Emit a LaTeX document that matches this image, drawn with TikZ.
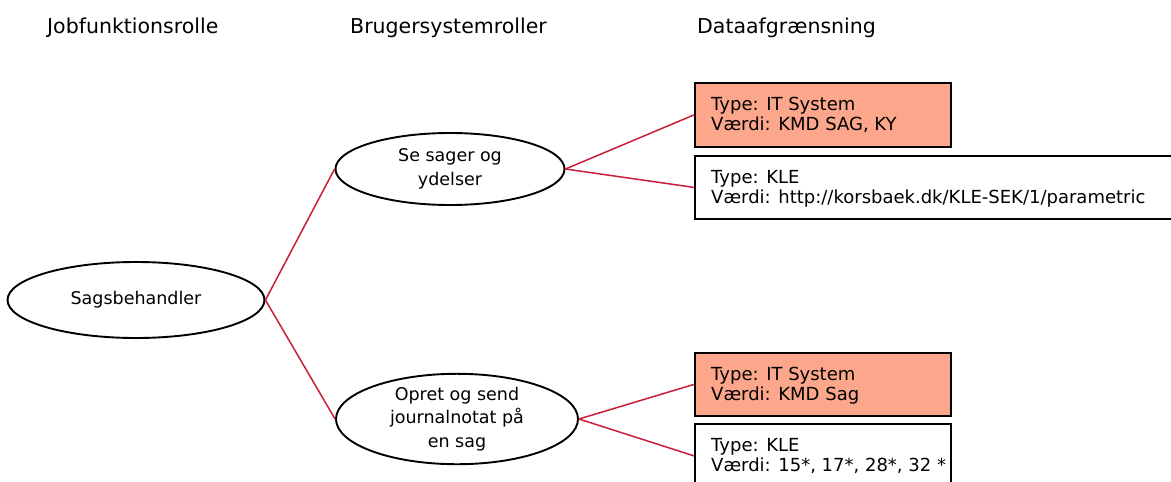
\documentclass[tikz,border=0pt]{standalone}
\usepackage{fontspec}
\setmainfont{DejaVu Sans}
\usetikzlibrary{shapes.geometric}
\definecolor{linkred}{HTML}{C81E3A}
\definecolor{salmon}{HTML}{FCA68B}
\tikzset{
  header/.style={anchor=base west, font=\fontsize{20.5}{24}\selectfont, inner sep=0pt},
  role/.style={ellipse, draw=black, line width=1.9pt, fill=white, align=center,
    font=\fontsize{17.5}{23.5}\selectfont, inner sep=0pt},
  databox/.style={rectangle, draw=black, line width=1.8pt, anchor=north west,
    inner sep=0pt, minimum width=#1},
  sysbox/.style={databox=#1, fill=salmon},
  boxtext/.style={anchor=base west, font=\fontsize{18}{20}\selectfont,
    align=left, inner sep=0pt},
  link/.style={draw=linkred, line width=1.5pt},
}
\begin{document}
\begin{tikzpicture}[x=1pt, y=-1pt]
  \useasboundingbox (0,0) rectangle (1171,482);

  % column headings
  \node[header] (h1) at (47,33) {Jobfunktionsrolle};
  \node[header] (h2) at (350,33) {Brugersystemroller};
  \node[header] (h3) at (697,33) {Dataafgrænsning};

  % job role and user system roles
  \node[role, minimum width=257pt, minimum height=76pt] (sag) at (136,300) {Sagsbehandler};
  \node[role, minimum width=229pt, minimum height=72pt] (se) at (450,169) {Se sager og\\ydelser};
  \node[role, minimum width=242pt, minimum height=90pt] (opret) at (457,419) {Opret og send\\journalnotat på\\en sag};

  % data constraints
  \node[sysbox=256pt, minimum height=64pt] (b1) at (694,82) {};
  \node[databox=480pt, minimum height=63pt] (b2) at (694,155) {};
  \node[sysbox=256pt, minimum height=63pt] (b3) at (694,352) {};
  \node[databox=256pt, minimum height=64pt] (b4) at (694,423) {};

  % the base of a two-line node is the baseline of its last line
  \node[boxtext] (t1) at (711,130) {Type: IT System\\Værdi: KMD SAG, KY};
  \node[boxtext] (t2) at (711,203) {Type: KLE\\Værdi: http://korsbaek.dk/KLE-SEK/1/parametric};
  \node[boxtext] (t3) at (711,400) {Type: IT System\\Værdi: KMD Sag};
  \node[boxtext] (t4) at (711,471) {Type: KLE\\Værdi: 15*, 17*, 28*, 32 *};

  % connectors
  \draw[link] (sag.east) -- (se.west);
  \draw[link] (sag.east) -- (opret.west);
  \draw[link] (se.east) -- (b1.west);
  \draw[link] (se.east) -- (b2.west);
  \draw[link] (opret.east) -- (b3.west);
  \draw[link] (opret.east) -- (b4.west);
\end{tikzpicture}
\end{document}
